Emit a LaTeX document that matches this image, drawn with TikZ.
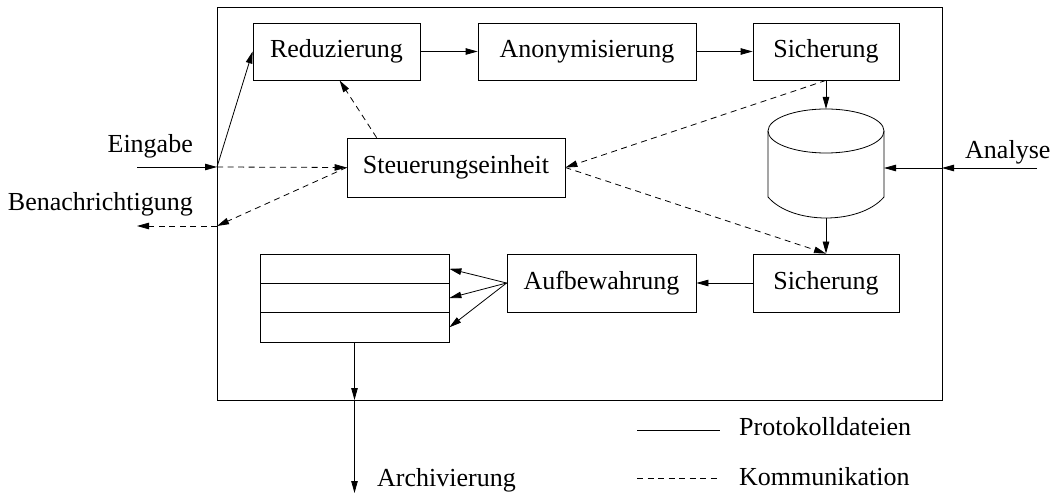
\documentclass[tikz,border=0pt]{standalone}
\usepackage{fontspec}
\setmainfont{Liberation Serif}
\usetikzlibrary{arrows.meta}
\begin{document}
\begin{tikzpicture}[x=1pt,y=-1pt,
  every node/.style={font=\fontsize{26}{31}\selectfont},
  box/.style={draw,line width=0.8pt,rectangle,inner sep=0pt},
  flow/.style={line width=0.8pt,-{Triangle[length=12pt,width=6.5pt]}},
  plainline/.style={line width=0.8pt},
  comm/.style={flow,dash pattern=on 6pt off 4.5pt},
  lbl/.style={inner sep=0pt}]
\useasboundingbox (0,0) rectangle (1050,497);
% frame
\draw[line width=0.8pt] (217,7) rectangle (942,400);
% boxes
\node[box,minimum width=167pt,minimum height=57pt] (red) at (336.5,51.5) {Reduzierung};
\node[box,minimum width=218pt,minimum height=57pt] (anon) at (587,51.5) {Anonymisierung};
\node[box,minimum width=146pt,minimum height=57pt] (sich1) at (826,51.5) {Sicherung};
\node[box,minimum width=218pt,minimum height=59pt] (steu) at (456,167.5) {Steuerungseinheit};
\node[box,minimum width=146pt,minimum height=58pt] (sich2) at (826,283) {Sicherung};
\node[box,minimum width=189pt,minimum height=58pt] (aufb) at (601.5,283) {Aufbewahrung};
\node[box,minimum width=189pt,minimum height=29.2pt] (row1) at (354.5,268.8) {};
\node[box,minimum width=189pt,minimum height=29.2pt] (row2) at (354.5,298) {};
\node[box,minimum width=189pt,minimum height=29.2pt] (row3) at (354.5,327.3) {};
% cylinder
\draw[line width=0.8pt] (826,131) ellipse [x radius=58pt, y radius=22pt];
\draw[line width=0.8pt] (768,131) -- (768,197) .. controls (792,225) and (860,225) .. (884,197) -- (884,131);
\coordinate (cyltop) at (826,109);
\coordinate (cylbot) at (826,218);
\coordinate (cylright) at (884,168);
% frame points and free ends
\coordinate (inL) at (217,167);
\coordinate (eingIn) at (137,167);
\coordinate (benL) at (217,226);
\coordinate (benOut) at (137,226);
\coordinate (anaR) at (942,168);
\coordinate (anaIn) at (1037,168);
\coordinate (archB) at (354.5,400);
\coordinate (archOut) at (354.5,493);
% labels
\node[lbl,anchor=base east] (eing) at (193,153) {Eingabe};
\node[lbl,anchor=base east] (ben) at (193,211) {Benachrichtigung};
\node[lbl,anchor=base west] (ana) at (965,159) {Analyse};
\node[lbl,anchor=base west] (arch) at (377,486) {Archivierung};
% solid flows
\draw[flow] (eingIn) -- (inL);
\draw[flow] (inL) -- (red.west);
\draw[flow] (red.east) -- (anon.west);
\draw[flow] (anon.east) -- (sich1.west);
\draw[flow] (sich1.south) -- (cyltop);
\draw[flow] (cylbot) -- (sich2.north);
\draw[flow] (anaIn) -- (anaR);
\draw[flow] (anaR) -- (cylright);
\draw[flow] (sich2.west) -- (aufb.east);
\draw[flow] (aufb.west) -- (row1.east);
\draw[flow] (aufb.west) -- (row2.east);
\draw[flow] (aufb.west) -- (row3.east);
\draw[flow] (row3.south) -- (archB);
\draw[flow] (archB) -- (archOut);
% communication
\draw[comm] (inL) -- (steu.west);
\draw[comm] (steu.west) -- (benL);
\draw[comm] (benL) -- (benOut);
\draw[comm] ([xshift=30pt]steu.north west) -- ([xshift=87pt]red.south west);
\draw[comm] (sich1.south) -- (steu.east);
\draw[comm] (steu.east) -- (sich2.north);
% legend
\coordinate (l1a) at (637,430);
\coordinate (l1b) at (720,430);
\coordinate (l2a) at (637,478);
\coordinate (l2b) at (720,478);
\draw[plainline] (l1a) -- (l1b);
\draw[plainline,dash pattern=on 6pt off 4.5pt] (l2a) -- (l2b);
\node[lbl,anchor=base west] (leg1) at (739,435) {Protokolldateien};
\node[lbl,anchor=base west] (leg2) at (739,485) {Kommunikation};
\end{tikzpicture}
\end{document}
